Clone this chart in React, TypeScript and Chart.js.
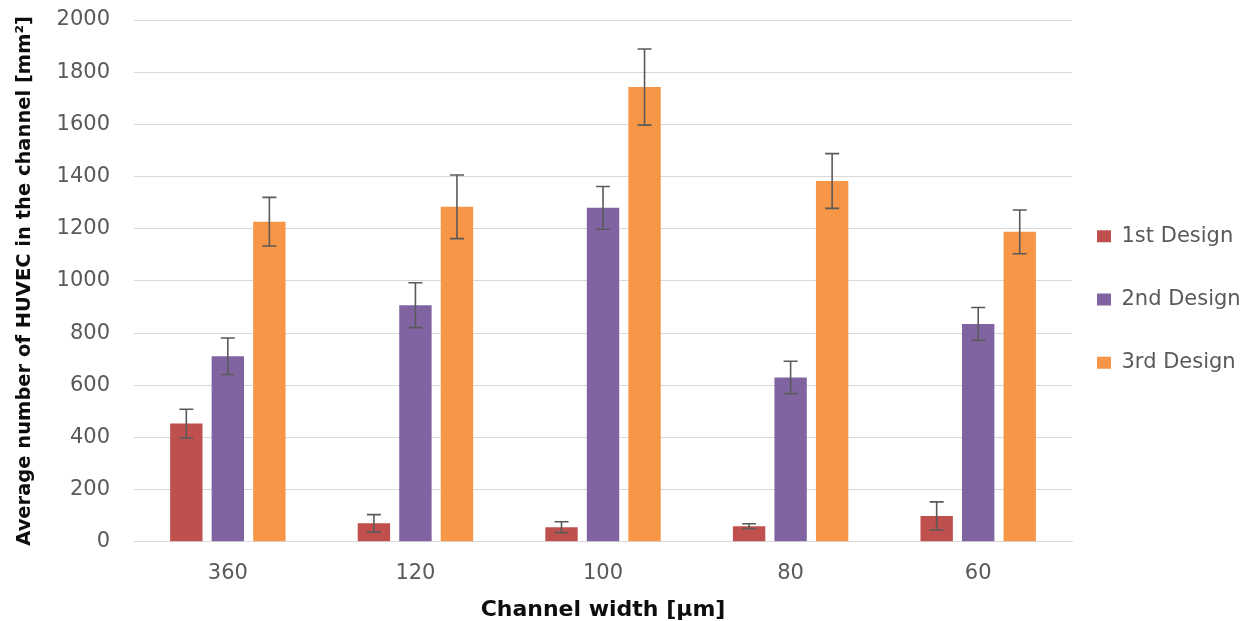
import React, { useEffect, useRef } from "react";
import { Chart, registerables } from "chart.js";

Chart.register(...registerables);

const categories = ["360", "120", "100", "80", "60"];
const seriesNames = ["1st Design", "2nd Design", "3rd Design"];
const design1 = [453, 71, 56, 60, 99];
const design2 = [711, 907, 1280, 630, 835];
const design3 = [1227, 1284, 1743, 1383, 1188];
const err1 = [55, 33, 21, 9, 54];
const err2 = [70, 86, 82, 62, 63];
const err3 = [93, 122, 146, 105, 84];
const yTicks = [0, 200, 400, 600, 800, 1000, 1200, 1400, 1600, 1800, 2000];
const colors = ["#C0504D", "#8064A2", "#F79646"];

const errorsBySeries = [err1, err2, err3];

const LEGEND_PAD = 42.3;

const errorBarPlugin = {
  id: "errorBars",
  afterDatasetsDraw(chart: any) {
    const ctx = chart.ctx;
    const yScale = chart.scales.y;
    ctx.save();
    ctx.strokeStyle = "#5a5a5a";
    ctx.lineWidth = 1.6;
    chart.data.datasets.forEach((ds: any, di: number) => {
      const meta = chart.getDatasetMeta(di);
      const errs = errorsBySeries[di];
      meta.data.forEach((bar: any, i: number) => {
        const v = ds.data[i];
        const e = errs[i];
        const x = bar.x;
        const yTop = yScale.getPixelForValue(v + e);
        const yBot = yScale.getPixelForValue(v - e);
        const cap = 7;
        ctx.beginPath();
        ctx.moveTo(x, yTop);
        ctx.lineTo(x, yBot);
        ctx.moveTo(x - cap, yTop);
        ctx.lineTo(x + cap, yTop);
        ctx.moveTo(x - cap, yBot);
        ctx.lineTo(x + cap, yBot);
        ctx.stroke();
      });
    });
    ctx.restore();
  },
};

// nudges the legend box so its items sit like the reference's legend
const legendNudgePlugin = {
  id: "legendNudge",
  afterLayout(chart: any) {
    const lg = chart.legend;
    if (!lg) return;
    lg.left = chart.chartArea.right + 25 - LEGEND_PAD;
    lg.right = chart.width;
    lg.width = lg.right - lg.left;
    lg.top -= 21;
    lg.bottom -= 21;
  },
};

export default function App() {
  const canvasRef = useRef<HTMLCanvasElement | null>(null);

  useEffect(() => {
    if (!canvasRef.current) return;
    const seriesData = [design1, design2, design3];
    const chart = new Chart(canvasRef.current, {
      type: "bar",
      data: {
        labels: categories,
        datasets: seriesNames.map((name, i) => ({
          label: name,
          data: seriesData[i],
          backgroundColor: colors[i],
          borderWidth: 0,
          categoryPercentage: 0.664,
          barPercentage: 0.78,
        })),
      },
      options: {
        animation: false,
        responsive: true,
        maintainAspectRatio: false,
        layout: { padding: { left: 0, right: 0, top: 20, bottom: 0 } },
        plugins: {
          tooltip: { enabled: false },
          legend: {
            position: "right",
            align: "center",
            maxWidth: 172,
            labels: {
              boxWidth: 14,
              boxHeight: 12,
              padding: LEGEND_PAD,
              color: "#595959",
              font: { family: "DejaVu Sans", size: 21 },
            },
          },
        },
        scales: {
          x: {
            grid: { display: false, drawTicks: false },
            border: { display: true, color: "#d9d9d9", width: 1 },
            ticks: {
              color: "#595959",
              font: { family: "DejaVu Sans", size: 21 },
              padding: 19,
            },
            title: {
              display: true,
              text: "Channel width [µm]",
              color: "#0d0d0d",
              font: { family: "DejaVu Sans", size: 22, weight: "bold", lineHeight: 1 },
              padding: { top: -6, bottom: 0 },
            },
          },
          y: {
            min: 0,
            max: 2000,
            afterBuildTicks: (scale: any) => {
              scale.ticks = yTicks.map((v) => ({ value: v }));
            },
            grid: {
              color: "#d9d9d9",
              lineWidth: 1,
              drawTicks: true,
              tickLength: 20,
              tickColor: "rgba(0,0,0,0)",
            },
            border: { display: false },
            ticks: {
              color: "#595959",
              font: { family: "DejaVu Sans", size: 21 },
              padding: 4,
              callback: (v: any) => String(v),
            },
            title: {
              display: true,
              text: "Average number of HUVEC in the channel [mm²]",
              color: "#0d0d0d",
              font: { family: "DejaVu Sans", size: 19.5, weight: "bold" },
              padding: { top: 13.6, bottom: 15.6 },
            },
          },
        },
      },
      plugins: [errorBarPlugin, legendNudgePlugin],
    });
    return () => chart.destroy();
  }, []);

  return (
    <div
      style={{
        position: "absolute",
        left: 0,
        top: 0,
        width: 1244,
        height: 621,
        background: "#ffffff",
      }}
    >
      <canvas ref={canvasRef} />
    </div>
  );
}
